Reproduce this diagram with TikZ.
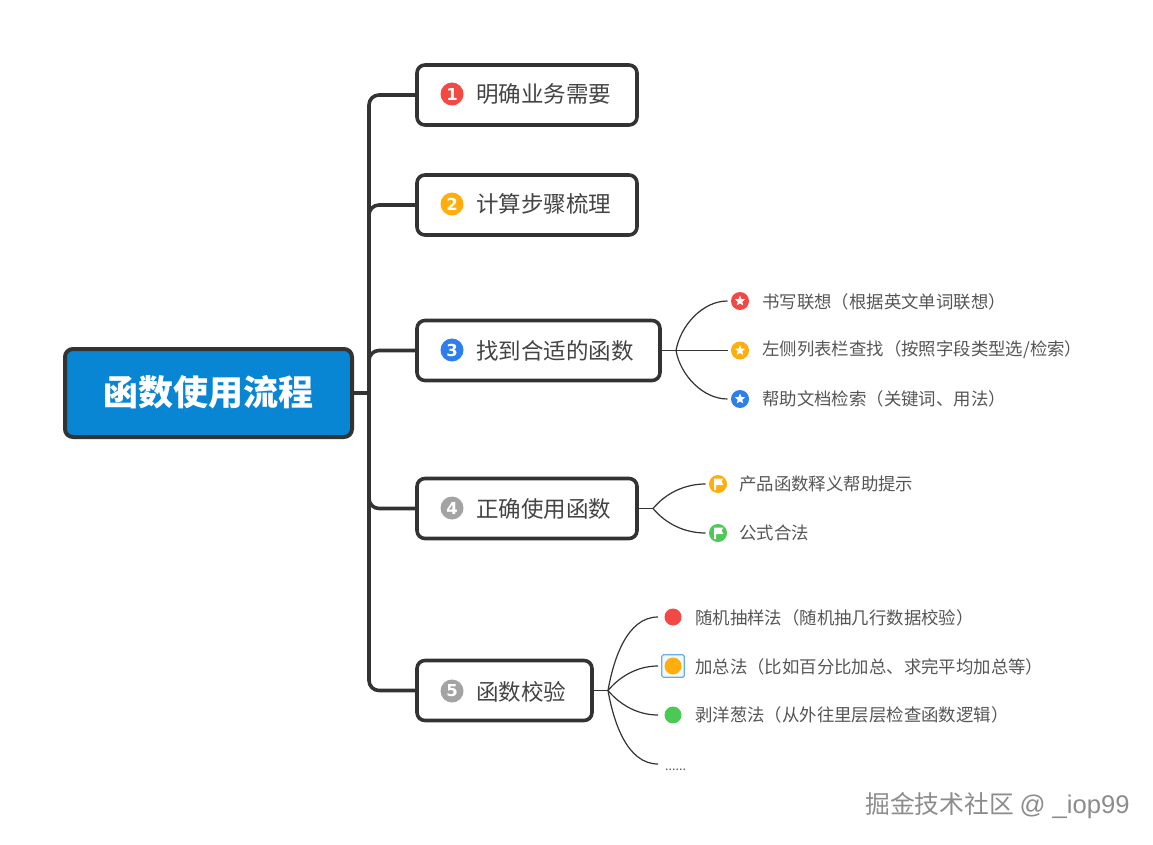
\documentclass[tikz,border=0pt]{standalone}
\usepackage{fontspec}
\setmainfont{Noto Sans CJK SC}
\newfontfamily\latinwm{Liberation Sans}
\newfontfamily\numfont{DejaVu Sans}
\usetikzlibrary{shapes.geometric}
\definecolor{ink}{HTML}{333333}
\definecolor{txtA}{HTML}{444444}
\definecolor{txtB}{HTML}{555555}
\definecolor{cred}{HTML}{F44842}
\definecolor{corg}{HTML}{FFAE0D}
\definecolor{cblu}{HTML}{2D7FEE}
\definecolor{cgry}{HTML}{A3A3A3}
\definecolor{cgrn}{HTML}{4CC856}
\definecolor{rootblue}{HTML}{0886D3}
\tikzset{
  x=1pt,y=-1pt,
  rootbox/.style={draw=ink,line width=4pt,rounded corners=8pt,fill=rootblue,minimum width=287pt,minimum height=88pt,inner sep=0pt,text=white},
  mainbox/.style={draw=ink,line width=3.6pt,rounded corners=8pt,fill=white,minimum height=60pt,inner sep=0pt},
  trunk/.style={draw=ink,line width=3.6pt,rounded corners=10pt},
  twig/.style={draw=ink,line width=1.2pt},
  num/.style={circle,fill=#1,minimum size=23pt,inner sep=0pt,text=white,font=\numfont\bfseries\fontsize{16.5}{16.5}\selectfont},
  ico/.style={circle,fill=#1,minimum size=18pt,inner sep=0pt,outer sep=3.5pt},
  dotmark/.style={circle,fill=#1,minimum size=17pt,inner sep=0pt,outer sep=6.5pt},
  lab/.style={anchor=west,inner sep=0pt,text=txtA,font=\fontsize{22.5}{26}\selectfont},
  sub/.style={anchor=west,inner sep=0pt,text=txtB,font=\fontsize{17.4}{20}\selectfont},
  whitestar/.style={star,star points=5,star point ratio=2.3,fill=white,inner sep=0pt,minimum size=11pt},
  flagmark/.pic={\fill[white] (-4.5,6) -- (-4.5,-5.5) -- (5,-5.5) -- (3,-2.5) -- (5,1) -- (-2.5,1) -- (-2.5,6) -- cycle;},
}
\begin{document}
\begin{tikzpicture}
\useasboundingbox (0,0) rectangle (1153,845);
% junctions
\coordinate (j0) at (369,393);
\coordinate (j3) at (676,350.5);
\coordinate (j4) at (653,508.5);
\coordinate (j5) at (608,690.5);
\coordinate (c4end) at (658,764);
% boxes
\node[rootbox] (root) at (208.5,393) {};
\node[mainbox,minimum width=220pt] (n1) at (527,95) {};
\node[mainbox,minimum width=220pt] (n2) at (527,205) {};
\node[mainbox,minimum width=243pt] (n3) at (538.5,350.5) {};
\node[mainbox,minimum width=220pt] (n4) at (527,508.5) {};
\node[mainbox,minimum width=175pt] (n5) at (504.5,690.5) {};
% root text
\node[inner sep=0pt,text=white,font=\bfseries\fontsize{35}{40}\selectfont] (roottext) at (208,392) {函数使用流程};
% level 1 icons and labels
\node[num=cred] (i1) at (452,94) {1};
\node[num=corg] (i2) at (452,204) {2};
\node[num=cblu] (i3) at (452,350) {3};
\node[num=cgry] (i4) at (452,508) {4};
\node[num=cgry] (i5) at (452,691) {5};
\node[lab] (l1) at (476,93.5) {明确业务需要};
\node[lab] (l2) at (476,203.5) {计算步骤梳理};
\node[lab] (l3) at (476,350.5) {找到合适的函数};
\node[lab] (l4) at (476,508.5) {正确使用函数};
\node[lab] (l5) at (476,691.5) {函数校验};
% group 3
\node[ico=cred] (a1) at (740,301) {};
\node[ico=corg] (a2) at (740,350.5) {};
\node[ico=cblu] (a3) at (740,399) {};
\node[whitestar] (s1) at (740,301) {};
\node[whitestar] (s2) at (740,350.5) {};
\node[whitestar] (s3) at (740,399) {};
\node[sub] (ta1) at (762,301.5) {书写联想（根据英文单词联想）};
\node[sub] (ta2) at (762,349.5) {左侧列表栏查找（按照字段类型选/检索）};
\node[sub] (ta3) at (762,398.5) {帮助文档检索（关键词、用法）};
% group 4
\node[ico=corg] (b1) at (718,484) {};
\node[ico=cgrn] (b2) at (718,533) {};
\pic at (718.5,484) {flagmark};
\pic at (718.5,533) {flagmark};
\node[sub] (tb1) at (739,484) {产品函数释义帮助提示};
\node[sub] (tb2) at (739,533) {公式合法};
% group 5
\node[draw=none,fill=none,minimum size=22pt,inner sep=0pt] (sel) at (673,666) {};
\fill[fill=cyan!6,draw=cyan!70!blue!60,line width=1.2pt,rounded corners=1.5pt] (sel.north west) rectangle (sel.south east);
\node[dotmark=cred] (c1) at (673,617) {};
\node[dotmark=corg] (c2) at (673,666) {};
\node[dotmark=cgrn] (c3) at (673,715) {};
\node[inner sep=0pt,anchor=west,text=txtB,font=\fontsize{12.5}{13}\selectfont] (c4) at (665,770) {......};
\node[sub] (tc1) at (695,617.5) {随机抽样法（随机抽几行数据校验）};
\node[sub] (tc2) at (695,666.5) {加总法（比如百分比加总、求完平均加总等）};
\node[sub] (tc3) at (695,715) {剥洋葱法（从外往里层层检查函数逻辑）};
% connectors
\draw[trunk] (root.east) -- (j0);
\draw[trunk] (j0) |- (n1.west);
\draw[trunk] (j0) |- (n2.west);
\draw[trunk] (j0) |- (n3.west);
\draw[trunk] (j0) |- (n4.west);
\draw[trunk] (j0) |- (n5.west);
\draw[twig] (n3.east) -- (j3);
\draw[twig] (j3) to[out=80,in=180,looseness=0.9] (a1.west);
\draw[twig] (j3) -- (a2.west);
\draw[twig] (j3) to[out=-80,in=180,looseness=0.9] (a3.west);
\draw[twig] (n4.east) -- (j4);
\draw[twig] (j4) to[out=50,in=180,looseness=0.9] (b1.west);
\draw[twig] (j4) to[out=-50,in=180,looseness=0.9] (b2.west);
\draw[twig] (n5.east) -- (j5);
\draw[twig] (j5) to[out=80,in=180,looseness=0.9] (c1.west);
\draw[twig] (j5) to[out=50,in=180,looseness=0.9] (c2.west);
\draw[twig] (j5) to[out=-50,in=180,looseness=0.9] (c3.west);
\draw[twig] (j5) to[out=-80,in=180,looseness=0.9] (c4end);
% watermark
\node[anchor=west,inner sep=0pt,text=black!45,font=\fontsize{24.8}{28}\selectfont] (wm) at (865,806) {掘金技术社区 {\latinwm\fontsize{25.6}{28}\selectfont @ \_iop99}};
\end{tikzpicture}
\end{document}
